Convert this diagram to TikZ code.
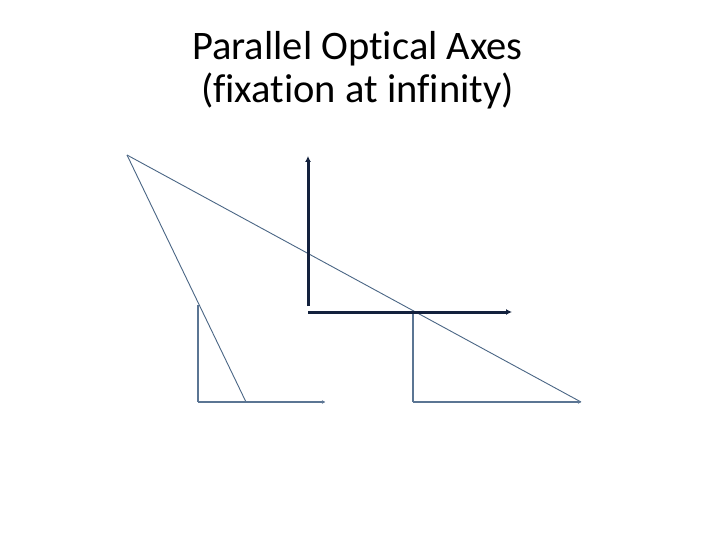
\documentclass[tikz,border=0pt]{standalone}
\usepackage{fontspec}
\setmainfont[Ligatures=NoCommon]{Carlito}
\usetikzlibrary{arrows.meta}
\definecolor{navy}{HTML}{13213D}
\definecolor{steel}{HTML}{5B7593}
\definecolor{thin}{HTML}{4A6685}
\tikzset{
  titletext/.style={font=\fontsize{40.5}{44}\selectfont, align=center, inner sep=0pt, text=black},
  darkaxis/.style={draw=navy, line width=3pt, -{Latex[length=6pt,width=6pt]}},
  lightaxis/.style={draw=steel, line width=2.6pt, -{Latex[length=4pt,width=4pt,round]}},
  lightstem/.style={draw=steel, line width=2pt},
  ray/.style={draw=thin, line width=0.9pt},
}
\begin{document}
\begin{tikzpicture}[x=1pt,y=-1pt]
\useasboundingbox (0,0) rectangle (720,540);
\fill[white] (0,0) rectangle (720,540);
\node[titletext, anchor=base] (t1) at (357.5,60) {Parallel Optical Axes};
\node[titletext, anchor=base] (t2) at (357.5,103) {(fixation at infinity)};
% points
\coordinate (P) at (127,155);
\coordinate (L) at (246,402);
\coordinate (R) at (581,402);
\coordinate (lo) at (198,402);
\coordinate (ltop) at (198,305);
\coordinate (lend) at (325,402);
\coordinate (ro) at (413,402);
\coordinate (rtop) at (413,312);
\coordinate (do) at (308,312);
\coordinate (dv) at (308,306);
\coordinate (dtop) at (308,156);
\coordinate (dend) at (512,312);
% rays
\draw[ray] (P) -- (L);
\draw[ray] (P) -- (R);
% light axes
\draw[lightstem] (ltop) -- (lo);
\draw[lightaxis] (lo) -- (lend);
\draw[lightstem] (rtop) -- (ro);
\draw[lightaxis] (ro) -- (R);
% dark axes
\draw[darkaxis] (dv) -- (dtop);
\draw[darkaxis] (do) -- (dend);
\end{tikzpicture}
\end{document}
